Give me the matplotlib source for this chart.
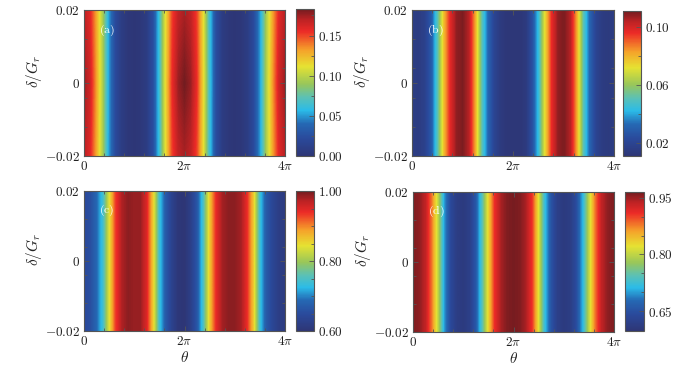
import numpy as np
import matplotlib
matplotlib.use('Agg')
import matplotlib.pyplot as plt
from matplotlib.colors import LinearSegmentedColormap
from matplotlib.ticker import FixedLocator, FormatStrFormatter

plt.rcParams['mathtext.fontset'] = 'cm'
plt.rcParams['font.family'] = 'serif'

# theta samples (in units of pi), 0 .. 4 in steps of 1/8
theta_pi = np.arange(0, 4.0001, 0.125)
delta_rows = [-0.02, 0.0, 0.02]

# panel (a): values at delta = 0 and at delta = +-0.02
a_mid = [0.176, 0.164, 0.132, 0.095, 0.050, 0.022, 0.008, 0.003, 0.001,
         0.003, 0.008, 0.025, 0.065, 0.115, 0.155, 0.176, 0.183,
         0.176, 0.155, 0.115, 0.065, 0.025, 0.008, 0.003, 0.001,
         0.003, 0.008, 0.022, 0.050, 0.095, 0.132, 0.164, 0.176]
a_edge = [0.170, 0.158, 0.129, 0.094, 0.050, 0.022, 0.008, 0.003, 0.001,
          0.003, 0.008, 0.025, 0.064, 0.113, 0.150, 0.168, 0.173,
          0.168, 0.150, 0.113, 0.064, 0.025, 0.008, 0.003, 0.001,
          0.003, 0.008, 0.022, 0.050, 0.094, 0.129, 0.158, 0.170]

# panel (b)
b_vals = [0.016, 0.015, 0.018, 0.028, 0.050, 0.078, 0.097, 0.108, 0.110,
          0.104, 0.082, 0.052, 0.032, 0.020, 0.014, 0.012, 0.012,
          0.012, 0.014, 0.026, 0.046, 0.074, 0.096, 0.108, 0.110,
          0.104, 0.082, 0.052, 0.032, 0.020, 0.015, 0.014, 0.016]

# panel (c)
c_vals = [0.645, 0.655, 0.685, 0.740, 0.840, 0.930, 0.975, 0.990, 0.985,
          0.985, 0.950, 0.860, 0.740, 0.670, 0.630, 0.605, 0.600,
          0.625, 0.665, 0.750, 0.860, 0.940, 0.980, 0.990, 0.990,
          0.980, 0.940, 0.860, 0.740, 0.670, 0.640, 0.620, 0.615]

# panel (d)
d_vals = [0.960, 0.955, 0.935, 0.880, 0.800, 0.700, 0.640, 0.615, 0.610,
          0.620, 0.660, 0.740, 0.830, 0.910, 0.945, 0.960, 0.963,
          0.960, 0.945, 0.905, 0.820, 0.720, 0.655, 0.620, 0.610,
          0.615, 0.645, 0.710, 0.800, 0.880, 0.935, 0.955, 0.960]

panel_labels = ['(a)', '(b)', '(c)', '(d)']
cbar_ticks = [[0.00, 0.05, 0.10, 0.15], [0.02, 0.06, 0.10],
              [0.60, 0.80, 1.00], [0.65, 0.80, 0.95]]
cbar_minor = [[0.025, 0.075, 0.125, 0.175], [0.04, 0.08],
              [0.65, 0.70, 0.75, 0.85, 0.90, 0.95], [0.70, 0.75, 0.85, 0.90]]
cbar_lims = [(0.0, 0.183), (0.011, 0.111), (0.60, 1.00), (0.598, 0.965)]

grids = [np.array([a_edge, a_mid, a_edge]),
         np.array([b_vals, b_vals, b_vals]),
         np.array([c_vals, c_vals, c_vals]),
         np.array([d_vals, d_vals, d_vals])]

cmap = LinearSegmentedColormap.from_list('jetlike', [
    (0.00, '#2e3676'), (0.12, '#2a4a9c'), (0.22, '#2569b4'),
    (0.31, '#2bbbe8'), (0.40, '#5cc1b4'), (0.49, '#98c65a'),
    (0.61, '#e6e232'), (0.72, '#f5a22a'), (0.85, '#ec2a27'),
    (0.93, '#bb2224'), (1.00, '#731c20')])

W, H = 700, 369
ax_px = [(84, 10, 285, 156), (412, 10, 614, 156),
         (84, 191, 285, 331), (413, 192, 614, 332)]
cb_px = [(296, 9, 314, 156), (623, 11, 641, 156),
         (296, 191, 314, 331), (625, 192, 644, 331)]


def rect(px):
    x0, y0, x1, y1 = px
    return [x0 / W, (H - y1) / H, (x1 - x0) / W, (y1 - y0) / H]


fig = plt.figure(figsize=(7, 3.69), dpi=100)
spine_c = '#555555'
fs = 9.5
du = np.pi * 0.125
dd = 0.02

for i in range(4):
    ax = fig.add_axes(rect(ax_px[i]))
    im = ax.imshow(grids[i], origin='lower', aspect='auto', cmap=cmap,
                   interpolation='bilinear',
                   vmin=cbar_lims[i][0], vmax=cbar_lims[i][1],
                   extent=[theta_pi[0] * np.pi - du / 2, theta_pi[-1] * np.pi + du / 2,
                           delta_rows[0] - dd / 2, delta_rows[-1] + dd / 2])
    ax.set_xlim(0, 4 * np.pi)
    ax.set_ylim(-0.02, 0.02)
    ax.set_xticks([0, 2 * np.pi, 4 * np.pi])
    ax.set_xticklabels([r'$0$', r'$2\pi$', r'$4\pi$'], fontsize=fs)
    ax.set_yticks([-0.02, 0, 0.02])
    ax.set_yticklabels([r'$-0.02$', r'$0$', r'$0.02$'], fontsize=fs)
    ax.xaxis.set_minor_locator(FixedLocator(np.pi * np.array([0.4, 0.8, 1.2, 1.6, 2.4, 2.8, 3.2, 3.6])))
    ax.yaxis.set_minor_locator(FixedLocator([-0.012, -0.004, 0.004, 0.012]))
    ax.tick_params(which='both', direction='in', top=True, right=True,
                   color=spine_c, width=0.6, labelcolor='#222222')
    ax.tick_params(which='major', length=3.5, pad=3)
    ax.tick_params(which='minor', length=2.5)
    for s in ax.spines.values():
        s.set_color(spine_c)
        s.set_linewidth(0.8)
    ax.set_ylabel(r'$\delta/G_r$', fontsize=11, color='#222222')
    ax.yaxis.set_label_coords(-0.2, 0.58)
    if i >= 2:
        ax.set_xlabel(r'$\theta$', fontsize=11, color='#222222', labelpad=1)
    ax.text(0.115, 0.86, r'$\mathrm{' + panel_labels[i] + '}$', transform=ax.transAxes,
            color='white', fontsize=8.5, ha='center', va='center')

    cax = fig.add_axes(rect(cb_px[i]))
    cb = fig.colorbar(im, cax=cax)
    cb.set_ticks(cbar_ticks[i])
    cb.ax.yaxis.set_major_formatter(FormatStrFormatter(r'$%.2f$'))
    cb.ax.yaxis.set_minor_locator(FixedLocator(cbar_minor[i]))
    cb.ax.tick_params(which='both', direction='in', color=spine_c, width=0.6,
                      labelsize=fs, labelcolor='#222222', pad=3)
    cb.ax.tick_params(which='major', length=3.5)
    cb.ax.tick_params(which='minor', length=2)
    cb.outline.set_edgecolor(spine_c)
    cb.outline.set_linewidth(0.8)

fig.savefig('out.png', dpi=100)
